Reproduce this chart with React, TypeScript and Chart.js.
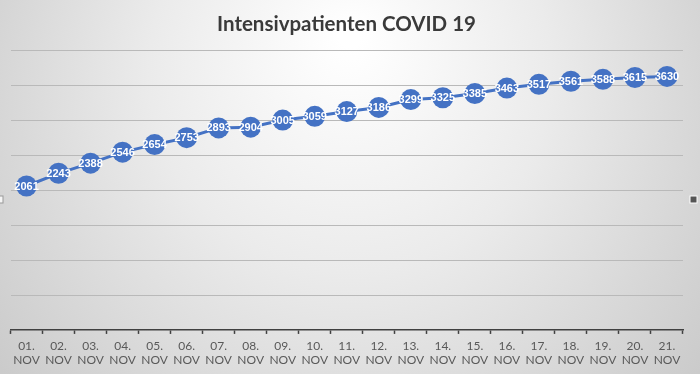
import React, { useEffect, useRef } from "react";
import { Chart, registerables } from "chart.js";

Chart.register(...registerables);

const dayLabels = ["01.", "02.", "03.", "04.", "05.", "06.", "07.", "08.", "09.", "10.", "11.", "12.", "13.", "14.", "15.", "16.", "17.", "18.", "19.", "20.", "21."];
const monthLabel = "NOV";
const patients = [2061, 2243, 2388, 2546, 2654, 2753, 2893, 2904, 3005, 3059, 3127, 3186, 3299, 3325, 3385, 3463, 3517, 3561, 3588, 3615, 3630];
const titleText = "Intensivpatienten COVID 19";

const bgPlugin = {
  id: "bgPlugin",
  beforeDraw(chart: any) {
    const { ctx, width, height } = chart;
    ctx.save();
    const g = ctx.createRadialGradient(width * 0.5, height * 0.1, 10, width * 0.5, height * 0.3, width * 0.62);
    g.addColorStop(0, "#ffffff");
    g.addColorStop(0.45, "#ebebeb");
    g.addColorStop(1, "#cbcbcb");
    ctx.fillStyle = g;
    ctx.fillRect(0, 0, width, height);
    ctx.restore();
  },
  afterDraw(chart: any) {
    const { ctx } = chart;
    ctx.save();
    ctx.fillStyle = "#555555";
    ctx.strokeStyle = "#ffffff";
    ctx.lineWidth = 1;
    ctx.fillRect(690, 196, 7, 7);
    ctx.strokeRect(690, 196, 7, 7);
    ctx.fillStyle = "#f5f5f5";
    ctx.strokeStyle = "#999999";
    ctx.fillRect(-3, 196, 6, 7);
    ctx.strokeRect(-3, 196, 6, 7);
    ctx.restore();
  },
};

const labelPlugin = {
  id: "labelPlugin",
  afterDatasetsDraw(chart: any) {
    const { ctx } = chart;
    const meta = chart.getDatasetMeta(0);
    const data = chart.data.datasets[0].data as number[];
    ctx.save();
    ctx.font = "bold 11px 'Liberation Sans', Arial, sans-serif";
    ctx.fillStyle = "#ffffff";
    ctx.textAlign = "center";
    ctx.textBaseline = "middle";
    meta.data.forEach((pt: any, i: number) => {
      ctx.fillText(String(data[i]), pt.x, pt.y + 0.5);
    });
    ctx.restore();
  },
};

export default function App() {
  const ref = useRef<HTMLCanvasElement | null>(null);

  useEffect(() => {
    document.body.style.margin = "0";
    if (!ref.current) return;
    const chart = new Chart(ref.current, {
      type: "line",
      data: {
        labels: dayLabels.map((d) => [d, monthLabel]),
        datasets: [
          {
            data: patients,
            borderColor: "#4472C4",
            backgroundColor: "#4472C4",
            borderWidth: 3,
            pointRadius: 10.5,
            pointBackgroundColor: "#4472C4",
            pointBorderColor: "#4472C4",
            pointBorderWidth: 0,
            tension: 0,
          },
        ],
      },
      options: {
        animation: false,
        responsive: false,
        maintainAspectRatio: false,
        layout: { padding: { left: 10, right: 17, top: 0, bottom: 2 } },
        plugins: {
          legend: { display: false },
          tooltip: { enabled: false },
          title: {
            display: true,
            text: titleText,
            color: "#3a3a3a",
            font: { family: "Lato, 'Open Sans', sans-serif", size: 20.5, weight: "bold", lineHeight: 1.2 },
            padding: { top: 12, bottom: 14 },
          },
        },
        scales: {
          x: {
            offset: true,
            grid: {
              offset: true,
              drawOnChartArea: false,
              drawTicks: true,
              tickLength: 4,
              color: "#404040",
              tickWidth: 1.5,
            },
            border: { display: true, color: "#404040", width: 1.5 },
            ticks: {
              color: "#595959",
              padding: 5,
              maxRotation: 0,
              autoSkip: false,
              font: { family: "Lato, 'Open Sans', sans-serif", size: 12, lineHeight: 1.17 },
            },
          },
          y: {
            min: 0,
            max: 4000,
            ticks: { display: false, stepSize: 500 },
            grid: { drawTicks: false, color: "#b9b9b9", lineWidth: 1 },
            border: { display: false },
          },
        },
      },
      plugins: [bgPlugin, labelPlugin],
    });
    return () => chart.destroy();
  }, []);

  return (
    <div style={{ position: "absolute", left: 0, top: 0, width: 700, height: 374 }}>
      <canvas ref={ref} width={700} height={374} style={{ display: "block", width: 700, height: 374 }} />
    </div>
  );
}
